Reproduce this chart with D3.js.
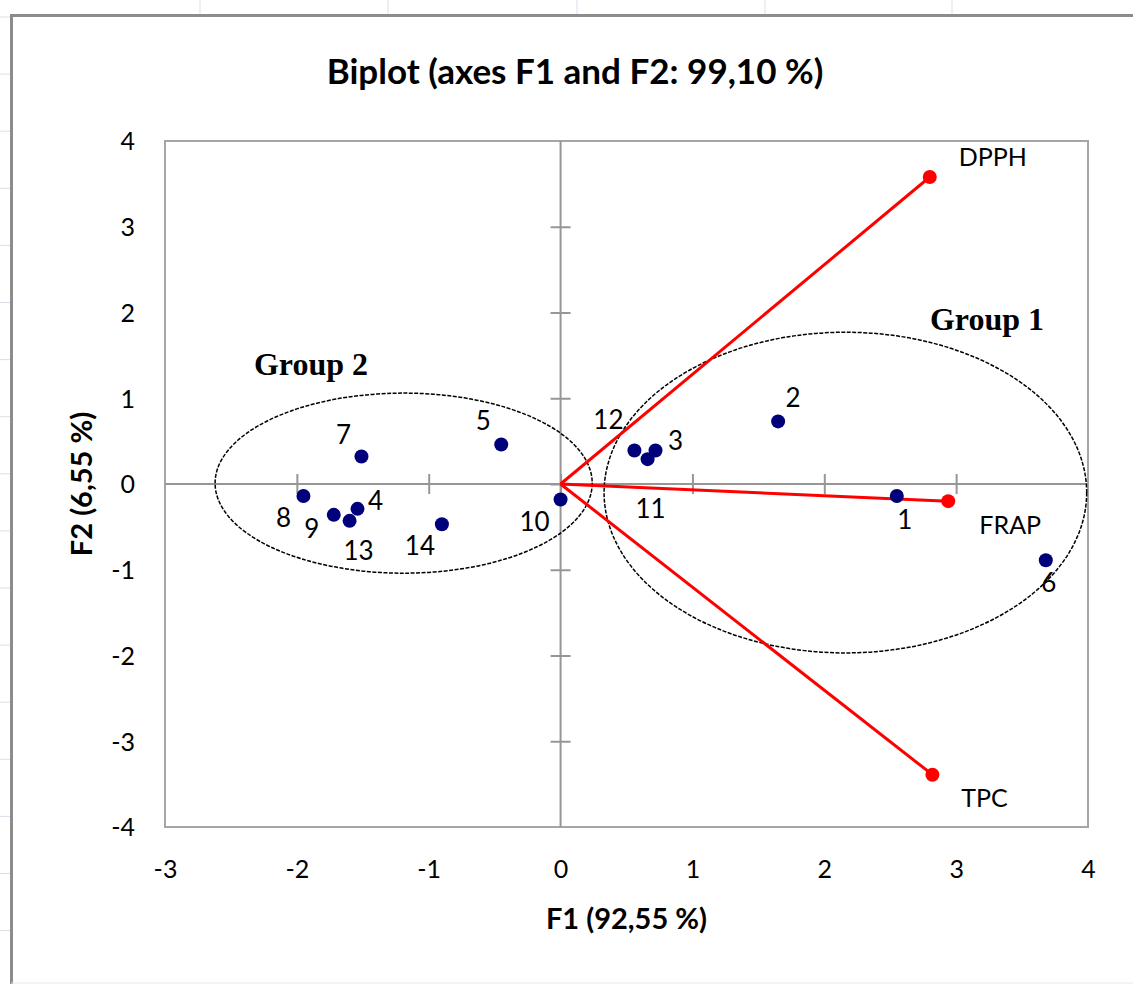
<!DOCTYPE html>
<html>
<head>
<meta charset="utf-8">
<script src="https://cdn.jsdelivr.net/npm/d3@7/dist/d3.min.js"></script>
<style>
  body { margin: 0; background: #fff; }
  svg { display: block; }
  .tick text { font-family: Lato, "Open Sans", sans-serif; }
</style>
</head>
<body>
<div id="graph"></div>
<script>
// observations (F1, F2)
var obsLabels = ["1", "2", "3", "4", "5", "6", "7", "8", "9", "10", "11", "12", "13", "14"];
var obsF1 = [2.55, 1.65, 0.72, -1.54, -0.45, 3.68, -1.51, -1.95, -1.72, 0.0, 0.66, 0.56, -1.60, -0.90];
var obsF2 = [-0.14, 0.73, 0.39, -0.29, 0.46, -0.89, 0.32, -0.14, -0.36, -0.18, 0.29, 0.39, -0.43, -0.47];

// variables (loadings, scaled)
var varLabels = ["DPPH", "FRAP", "TPC"];
var varF1 = [2.80, 2.94, 2.82];
var varF2 = [3.58, -0.20, -3.39];

// group ellipses: centre and radii in axis units
var groupNames = ["Group 1", "Group 2"];
var groupCx = [2.16, -1.19];
var groupCy = [-0.10, 0.01];
var groupRx = [1.83, 1.43];
var groupRy = [1.87, 1.05];

var xTicks = [-3, -2, -1, 0, 1, 2, 3, 4];
var yTicks = [-4, -3, -2, -1, 0, 1, 2, 3, 4];

var W = 1133, H = 984;
var plot = {left: 165, top: 141, right: 1088, bottom: 827};
var font = "Lato, 'Open Sans', sans-serif";

var svg = d3.select("#graph").append("svg")
    .attr("width", W).attr("height", H);

// spreadsheet grid showing around the chart
var sheet = svg.append("g").attr("stroke", "#d9dfea").attr("stroke-width", 1);
[200, 388, 577, 765, 952].forEach(function(x) {
    sheet.append("line").attr("x1", x).attr("x2", x).attr("y1", 0).attr("y2", 14);
});
d3.range(17, 984, 57.1).forEach(function(y) {
    sheet.append("line").attr("x1", 0).attr("x2", 10).attr("y1", y).attr("y2", y);
});

// chart area border
svg.append("path")
    .attr("d", "M11.5,984 V15.5 H1133")
    .attr("fill", "none").attr("stroke", "#8c8c8c").attr("stroke-width", 3);
svg.append("line").attr("x1", 11).attr("x2", W).attr("y1", 983).attr("y2", 983)
    .attr("stroke", "#e6e6e6").attr("stroke-width", 1);

var x = d3.scaleLinear().domain([-3, 4]).range([plot.left, plot.right]);
var y = d3.scaleLinear().domain([-4, 4]).range([plot.bottom, plot.top]);

// plot area frame
svg.append("rect")
    .attr("x", plot.left).attr("y", plot.top)
    .attr("width", plot.right - plot.left).attr("height", plot.bottom - plot.top)
    .attr("fill", "none").attr("stroke", "#a6a6a6").attr("stroke-width", 2);

// axes through origin, with cross ticks
var xAxis = svg.append("g")
    .attr("transform", "translate(0," + y(0) + ")")
    .call(d3.axisBottom(x).tickValues(xTicks.slice(1, -1)).tickSize(0).tickFormat(""));
xAxis.selectAll(".tick line").attr("y1", -10).attr("y2", 10);
var yAxis = svg.append("g")
    .attr("transform", "translate(" + x(0) + ",0)")
    .call(d3.axisLeft(y).tickValues(yTicks.slice(1, -1)).tickSize(0).tickFormat(""));
yAxis.selectAll(".tick line").attr("x1", -10).attr("x2", 10);
svg.selectAll(".domain, .tick line").attr("stroke", "#969696").attr("stroke-width", 2);
xAxis.select(".domain").attr("d", "M" + plot.left + ",0H" + plot.right);
yAxis.select(".domain").attr("d", "M0," + plot.top + "V" + plot.bottom);

// tick labels outside the plot area (plain hyphen for negatives)
svg.append("g")
    .attr("transform", "translate(0," + (plot.bottom + 42) + ")")
    .call(d3.axisBottom(x).tickValues(xTicks).tickSize(0).tickFormat(function(d) { return String(d); }))
    .call(function(g) { g.select(".domain").remove(); })
    .selectAll("text").attr("font-size", 25).attr("fill", "#000").attr("y", 0).attr("dy", "0.35em");
svg.append("g")
    .attr("transform", "translate(" + (plot.left - 30) + ",0)")
    .call(d3.axisLeft(y).tickValues(yTicks).tickSize(0).tickFormat(function(d) { return String(d); }))
    .call(function(g) { g.select(".domain").remove(); })
    .selectAll("text").attr("font-size", 25).attr("fill", "#000").attr("x", 0).attr("dy", "0.35em");

// group ellipses
svg.append("g").selectAll("ellipse")
    .data(groupNames)
    .enter().append("ellipse")
    .attr("cx", function(d, i) { return x(groupCx[i]); })
    .attr("cy", function(d, i) { return y(groupCy[i]); })
    .attr("rx", function(d, i) { return x(groupRx[i]) - x(0); })
    .attr("ry", function(d, i) { return y(0) - y(groupRy[i]); })
    .attr("fill", "none").attr("stroke", "#000").attr("stroke-width", 1.5)
    .attr("stroke-dasharray", "4,1.5");

// variable vectors
var vars = svg.append("g");
vars.selectAll("line")
    .data(varLabels)
    .enter().append("line")
    .attr("x1", x(0)).attr("y1", y(0))
    .attr("x2", function(d, i) { return x(varF1[i]); })
    .attr("y2", function(d, i) { return y(varF2[i]); })
    .attr("stroke", "#ff0000").attr("stroke-width", 3);
vars.selectAll("circle")
    .data(varLabels)
    .enter().append("circle")
    .attr("cx", function(d, i) { return x(varF1[i]); })
    .attr("cy", function(d, i) { return y(varF2[i]); })
    .attr("r", 7).attr("fill", "#ff0000");

// observations
svg.append("g").selectAll("circle")
    .data(obsLabels)
    .enter().append("circle")
    .attr("cx", function(d, i) { return x(obsF1[i]); })
    .attr("cy", function(d, i) { return y(obsF2[i]); })
    .attr("r", 7).attr("fill", "#00007a");

// label offsets (pixels) so labels sit like the original
var obsOff = [[8, 24], [15, -24], [20, -10], [18, -8], [-18, -24], [3, 23], [-18, -22], [-20, 22], [-22, 14], [-26, 22], [3, 50], [-26, -31], [9, 30], [-22, 22]];
var varOff = [[63, -20], [62, 24], [52, 24]];

svg.append("g").selectAll("text")
    .data(obsLabels)
    .enter().append("text")
    .attr("x", function(d, i) { return x(obsF1[i]) + obsOff[i][0]; })
    .attr("y", function(d, i) { return y(obsF2[i]) + obsOff[i][1]; })
    .attr("text-anchor", "middle").attr("dy", "0.35em")
    .attr("font-family", font).attr("font-size", 26)
    .text(function(d) { return d; });

svg.append("g").selectAll("text")
    .data(varLabels)
    .enter().append("text")
    .attr("x", function(d, i) { return x(varF1[i]) + varOff[i][0]; })
    .attr("y", function(d, i) { return y(varF2[i]) + varOff[i][1]; })
    .attr("text-anchor", "middle").attr("dy", "0.35em")
    .attr("font-family", font).attr("font-size", 25)
    .text(function(d) { return d; });

// group names
var groupLabelX = [987, 311];
var groupLabelY = [319, 364];
svg.append("g").selectAll("text")
    .data(groupNames)
    .enter().append("text")
    .attr("x", function(d, i) { return groupLabelX[i]; })
    .attr("y", function(d, i) { return groupLabelY[i]; })
    .attr("text-anchor", "middle").attr("dy", "0.35em")
    .attr("font-family", "'Liberation Serif', serif").attr("font-weight", "bold").attr("font-size", 32)
    .text(function(d) { return d; });

// titles
svg.append("text")
    .attr("x", 575).attr("y", 72).attr("dy", "0.35em")
    .attr("text-anchor", "middle")
    .attr("font-family", font).attr("font-weight", "bold").attr("font-size", 35)
    .text("Biplot (axes F1 and F2: 99,10 %)");
svg.append("text")
    .attr("x", (plot.left + plot.right) / 2).attr("y", 919).attr("dy", "0.35em")
    .attr("text-anchor", "middle")
    .attr("font-family", font).attr("font-weight", "bold").attr("font-size", 29)
    .text("F1 (92,55 %)");
svg.append("text")
    .attr("transform", "translate(82," + ((plot.top + plot.bottom) / 2) + ") rotate(-90)")
    .attr("dy", "0.35em")
    .attr("text-anchor", "middle")
    .attr("font-family", font).attr("font-weight", "bold").attr("font-size", 29)
    .text("F2 (6,55 %)");
</script>
</body>
</html>
